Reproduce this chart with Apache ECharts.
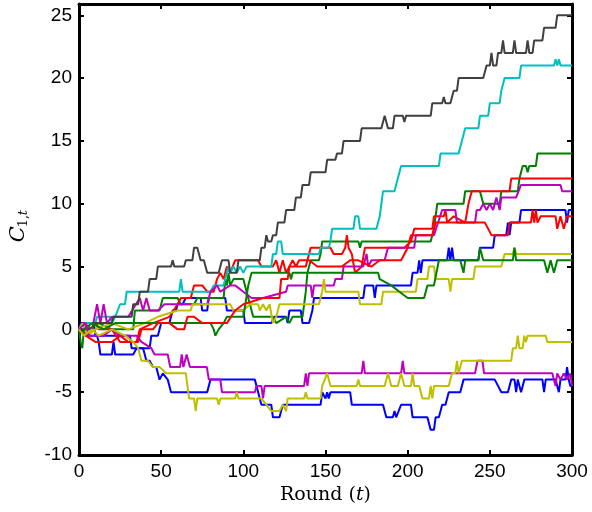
<!DOCTYPE html>
<html>
<head>
<meta charset="utf-8">
<script src="https://cdn.jsdelivr.net/npm/echarts@6/dist/echarts.min.js"></script>
<style>html,body{margin:0;padding:0;background:#fff}#c{width:592px;height:512px}</style>
</head>
<body>
<div id="c"></div>
<script>
// x-axis ticks and y-axis ticks
const xTicks = [0, 50, 100, 150, 200, 250, 300];
const yTicks = [-10, -5, 0, 5, 10, 15, 20, 25];

// Each series: [round, C] breakpoints
const blueA = [[0,0],[1,0.5],[9,0.5],[10,-0.5],[31,-0.5],[32,-1.5],[43,-1.5],[44,-0.5],[48,-0.5],[50,0.5],[55,0.5],[57,1.5],[59,1.5],[60,2],[63,2],[65,2.5],[74,2.5],[75,1.5],[78,1.5],[79,2.5],[89,2.5],[90,1.5],[100,1.5],[101,0.5],[117,0.5],[119,1],[126,1],[127,0.5],[128,1.5],[135,1.5],[136,0.5],[140,0.5],[142,1.5],[143,2.5],[173,2.5],[174,3.5],[179,3.5],[180,2.5],[181,3.5],[202,3.5],[203,4.5],[206,4.5],[207,5.5],[208,4.5],[209,5.5],[224,5.5],[225,6.5],[226,5.5],[227,6.5],[228,5.5],[243,5.5],[244,6.5],[252,6.5],[253,7.5],[260,7.5],[261,8.5],[262,7.5],[263,8.5],[268,8.5],[269,9.5],[296,9.5],[297,8.5],[298,9.5],[300,9.5]];
const blueB = [[0,0],[5,-0.5],[11,-0.5],[12,-1],[13,-2],[20,-2],[21,-1],[22,-2],[33,-2],[35,-1.5],[39,-1.5],[41,-2.5],[43,-2.5],[45,-3],[47,-3],[48,-3.5],[49,-4],[51,-3.5],[54,-4],[55,-4],[56,-5],[78,-5],[80,-4],[107,-4],[111,-6],[117,-6],[118,-7],[122,-7],[124,-6],[147,-6],[148,-5],[150,-5.5],[151,-5],[152,-5.5],[153,-5],[165,-5],[166,-6],[185,-6],[187,-7],[191,-7],[192,-6.5],[193,-7],[196,-6],[202,-6],[203,-7],[212,-7],[214,-8],[216,-8],[217,-7],[219,-7],[221,-6],[223,-6],[225,-5],[232,-5],[234,-4],[253,-4],[255,-4.5],[257,-5],[261,-5],[263,-4],[265,-4],[266,-5],[267,-4],[269,-5],[271,-4],[282,-4],[283,-5],[284,-4],[290,-4],[292,-5],[293,-4],[296,-4],[297,-3],[298,-4],[299,-4.5],[300,-4.5]];
const greenA = [[0,0],[2,0.5],[6,0],[12,0.5],[20,0],[33,0],[34,1.5],[49,1.5],[51,2.5],[60,2.5],[62,2],[70,2],[72,2.5],[88,2.5],[89,4],[90,3.5],[91,4.5],[92,3.5],[94,4],[100,4],[102,3],[104,2],[106,1],[118,1],[120,0.5],[126,1],[128,0.5],[130,1],[136,1],[137,2],[138,3],[139,4.5],[141,5.5],[146,5.5],[147,6],[148,7],[170,7],[171,6.5],[172,7],[214,7],[216,8],[218,10],[234,10],[235,11],[244,11],[246,10],[256,10],[257,11],[267,11],[268,12],[270,13],[272,13],[273,12.5],[274,13],[278,13],[279,14],[300,14]];
const greenB = [[0,0],[1,-1],[2,-1.5],[3,0],[8,0.5],[15,0],[22,0.5],[33,0.5],[80,0.5],[82,0],[83,-0.5],[85,0],[88,0.5],[90,1],[100,1],[103,3.5],[105,4.5],[128,4.5],[129,4],[130,4.5],[182,4.5],[183,4],[190,3.5],[195,3],[200,2.5],[210,2.5],[212,3.5],[216,3.5],[219,5.5],[232,5.5],[234,4.5],[235,5.5],[243,5.5],[244,6.5],[246,5.5],[264,5.5],[265,6.5],[266,5.5],[283,5.5],[285,4.5],[287,5.5],[288,5.5],[289,4.5],[291,5.5],[300,5.5]];
const redA = [[0,0],[3,0.5],[10,0.5],[12,0],[20,0],[25,-1],[35,-1],[37,0],[45,0.5],[55,1],[60,2],[62,2.5],[68,2.5],[70,3.5],[75,3.5],[78,3],[82,3],[84,4],[86,4.5],[88,4],[90,5],[92,4.5],[95,5.5],[109,5.5],[111,5],[118,5],[120,5.5],[122,4.5],[124,5.5],[126,4.5],[128,5],[138,5],[141,6.5],[153,6.5],[155,6],[160,6],[162,6.5],[163,7.5],[164,6.5],[166,6],[168,4.5],[172,5],[174,6.5],[198,6.5],[202,7],[204,8],[215,8],[216,9],[222,9],[223,9.5],[224,8.5],[228,9],[235,8.5],[237,10],[239,11],[262,11],[263,12],[300,12]];
const redB = [[0,0],[4,-0.5],[10,-1],[20,-1],[25,-0.5],[30,-1],[36,-1],[38,0],[45,0],[48,0.5],[55,0.5],[60,0],[64,0],[66,1],[70,1],[75,0.5],[90,0.5],[95,1.5],[100,2],[112,2.5],[122,2.5],[123,4],[127,4],[128,5],[130,5.5],[132,5],[134,5.5],[140,5.5],[145,5],[160,5],[165,5.5],[170,5.5],[178,5],[183,5.5],[196,5.5],[200,6.5],[202,7.5],[215,7.5],[217,8.5],[247,8.5],[249,8],[251,7.5],[261,7.5],[262,8.5],[275,8.5],[276,9.5],[277,8.5],[278,9.5],[279,8.5],[281,9],[290,9],[291,8],[293,9],[295,8],[297,9],[300,9]];
const cyanA = [[0,0],[3,0],[4,0.5],[10,0.5],[11,1],[19,1],[20,0.5],[22,1],[25,2],[28,2],[29,3],[61,3],[62,4],[63,3],[80,3],[82,3.5],[88,3.5],[90,4.5],[91,5],[92,4.5],[94,5],[96,4.5],[98,5],[100,4.5],[102,5],[117,5],[118,6],[120,6],[121,7],[123,7],[124,6],[146,6],[147,6.5],[152,6.5],[153,7],[154,8],[167,8],[168,9],[170,9],[171,8],[181,8],[183,9],[185,11],[192,11],[194,12],[196,13],[219,13],[220,14],[231,14],[233,15],[235,16],[243,16],[244,17],[249,17],[250,18],[256,18],[257,19],[259,20],[268,20],[269,21],[289,21],[290,21.5],[291,21],[292,21.5],[293,21],[300,21]];
const magentaA = [[0,0],[3,0.5],[8,0],[11,2],[13,0.5],[15,2],[17,0.5],[20,1],[30,1],[37,2.5],[39,1.5],[41,2.5],[43,1.5],[48,1.5],[52,2],[78,2],[80,3],[84,3.5],[86,3],[92,3.5],[95,3.5],[100,3],[105,2.5],[112,2.5],[126,3],[127,3.5],[141,3.5],[142,2.5],[143,3.5],[155,3.5],[156,4],[160,4],[161,5],[173,5],[175,6],[176,5],[178,5.5],[186,5.5],[188,6.5],[204,6.5],[205,7.5],[216,7.5],[221,9.5],[229,9.5],[230,8.5],[241,8.5],[242,9.5],[244,9.5],[246,10],[248,9.5],[250,10],[252,9.5],[254,10.5],[256,9.5],[257,10.5],[266,10.5],[269,11.5],[293,11.5],[294,11],[300,11]];
const magentaB = [[0,0],[4,0.5],[6,-0.5],[15,-0.5],[20,0],[25,-0.5],[35,-0.5],[38,-1],[44,-1.5],[46,-2],[54,-2],[55.5,-3],[61.5,-3],[62.5,-2],[63.5,-3],[65.5,-2],[67.5,-3],[77.8,-3],[79,-4],[86,-4],[87,-5],[107,-5],[108,-4.5],[111,-4.5],[112,-5.5],[113,-4.5],[137,-4.5],[138,-3.5],[139,-4.5],[140,-3.5],[172,-3.5],[173,-2.5],[174,-3.5],[196,-3.5],[197,-2.5],[198,-3.5],[241,-3.5],[242.5,-2.5],[245.5,-2.5],[246.5,-3.5],[288,-3.5],[290,-4.5],[291,-3.5],[293,-4],[295,-3.5],[297,-4],[299,-3.5],[300,-4.5]];
const yellowA = [[0,0],[2,0.5],[5,-0.5],[10,0],[20,0.5],[30,0],[40,0.5],[48,1],[60,1.5],[68,1.5],[69,2],[92,2],[94,1.5],[100,1.5],[104,2],[109,2],[110,1.5],[112,2],[114,1.5],[116,2],[118,0.5],[120,1],[122,2],[146,2],[148,3],[149,4],[150,3],[170,3],[171,2],[184,2],[185,3],[205,3],[206,4],[212,4],[213,5],[216,5],[217,4],[225,4],[226,3],[227,4],[240,4],[241,5],[257,5],[259,6],[264,6],[265,6.5],[266,6],[300,6]];
const yellowB = [[0,0],[3,-0.5],[8,0],[12,-0.5],[20,0],[28,-0.5],[33,-1],[36,-1.5],[38,-2.5],[42,-2.5],[45,-3],[49,-3],[53,-3.5],[65,-3.5],[67,-5.5],[70,-5.5],[71,-6.5],[72,-5.5],[84,-5.5],[85,-6],[86,-5.5],[95,-5.5],[96,-5],[97,-5.5],[111,-5.5],[117,-6.5],[122,-6.5],[124,-6],[126,-6.5],[127,-5.5],[137,-5.5],[138,-5],[139,-5.5],[147,-5.5],[148,-4.5],[151,-3.5],[153,-4.5],[169,-4.5],[170,-4],[171,-4.5],[186,-4.5],[188,-3.5],[190,-4.5],[194,-4.5],[196,-3.5],[198,-4.5],[202,-4.5],[203,-3.5],[204,-4.5],[207,-4.5],[209,-5.5],[213,-5.5],[214,-4.5],[215,-5.5],[216,-4.5],[225,-4.5],[227,-3.5],[229,-3.5],[230,-2.5],[231,-3.5],[233,-2.5],[263,-2.5],[264,-1.5],[266,-1.5],[267,-0.5],[268,-1.5],[270,-1.5],[271,-0.5],[272,-1],[273,-0.5],[284,-0.5],[285,-1],[300,-1]];
const grayA = [[0,0],[8,0],[9,0.5],[20,0.5],[21,1],[32,1],[33,2],[36,2],[37,3],[42,3],[43,4],[47,4],[48,5],[56,5],[57,5.5],[58,5],[64,5],[65,5.5],[69,5.5],[70,6.5],[72,6.5],[74,5.5],[76,5.5],[78,4.5],[85,4.5],[87,5.5],[91,5.5],[92,4.5],[96,4.5],[97,5.5],[110,5.5],[111,6.5],[113,6.5],[114,7.5],[115,7],[117,7],[118,7.5],[120,7.5],[121,8.5],[125,8.5],[126,9.5],[131,9.5],[132,10.5],[135,10.5],[136,11.5],[140,11.5],[141,12.5],[150,12.5],[151,13.5],[156,13.5],[157,14],[160,14],[161,15],[171,15],[172,16],[184,16],[186,17],[188,16],[191,16],[192,17],[197,17],[198,16.5],[199,17],[214,17],[215,18],[221,18],[222,18.5],[223,18],[226,18],[228,19],[230,19],[231,20],[246,20],[248,21],[250,21],[251,22],[252,21],[254,21],[255,22],[257,22],[258,23],[259,22],[264,22],[265,23],[266,22],[272,22],[273,23],[274,22],[276,22],[277,23],[282,23],[283,24],[290,24],[291,25],[300,25]];

const seriesList = [
  [blueA, '#0000ff'], [greenA, '#008000'], [redA, '#ff0000'], [cyanA, '#00bfbf'],
  [magentaA, '#bf00bf'], [yellowA, '#bfbf00'], [grayA, '#404040'],
  [blueB, '#0000ff'], [greenB, '#008000'], [redB, '#ff0000'],
  [magentaB, '#bf00bf'], [yellowB, '#bfbf00']
];

const chart = echarts.init(document.getElementById('c'), null, {renderer: 'canvas'});
const tickFont = {fontFamily: 'Liberation Sans', fontSize: 19, color: '#000'};
const lineStyleAxis = {color: '#000', width: 3};
const xBase = {type: 'value', min: xTicks[0], max: xTicks[xTicks.length - 1], interval: 50,
  axisLine: {show: true, onZero: false, lineStyle: lineStyleAxis},
  axisTick: {show: true, inside: true, length: 5, lineStyle: {color: '#000', width: 2}},
  splitLine: {show: false}};
const yBase = {type: 'value', min: yTicks[0], max: 25.9, interval: 5,
  axisLine: {show: true, onZero: false, lineStyle: lineStyleAxis},
  axisTick: {show: true, inside: true, length: 5, lineStyle: {color: '#000', width: 2}},
  splitLine: {show: false}};

chart.setOption({
  animation: false,
  backgroundColor: '#fff',
  grid: {left: 79, right: 20, top: 4, bottom: 57},
  xAxis: [
    Object.assign({}, xBase, {position: 'bottom',
      axisLabel: Object.assign({margin: 7, formatter: v => xTicks.includes(v) ? String(v) : ''}, tickFont),
      name: '{a|Round (}{b|t}{a|)}', nameLocation: 'middle', nameGap: 27,
      nameTextStyle: {rich: {a: {fontFamily: 'DejaVu Serif', fontSize: 19, color: '#000'},
                             b: {fontFamily: 'DejaVu Serif', fontStyle: 'italic', fontSize: 19, color: '#000'}}}}),
    Object.assign({}, xBase, {position: 'top', axisLabel: {show: false}})
  ],
  yAxis: [
    Object.assign({}, yBase, {position: 'left',
      axisLabel: Object.assign({margin: 7, formatter: v => yTicks.includes(v) ? String(v) : ''}, tickFont)}),
    Object.assign({}, yBase, {position: 'right', axisLabel: {show: false}})
  ],
  graphic: [{
    type: 'group', left: 8, top: 210, rotation: Math.PI / 2,
    children: [
      {type: 'text', x: 0, y: 0, style: {text: 'C', fontFamily: 'DejaVu Serif', fontStyle: 'italic', fontSize: 21, fill: '#000'}},
      {type: 'text', x: 15, y: 9, style: {text: '1,', fontFamily: 'DejaVu Serif', fontSize: 13, fill: '#000'}},
      {type: 'text', x: 27, y: 9, style: {text: 't', fontFamily: 'DejaVu Serif', fontStyle: 'italic', fontSize: 13, fill: '#000'}}
    ]
  }],
  series: seriesList.map(([d, c]) => ({
    type: 'line', data: d, showSymbol: false, symbol: 'none', clip: true,
    lineStyle: {color: c, width: 2}, itemStyle: {color: c}
  }))
});
</script>
</body>
</html>
